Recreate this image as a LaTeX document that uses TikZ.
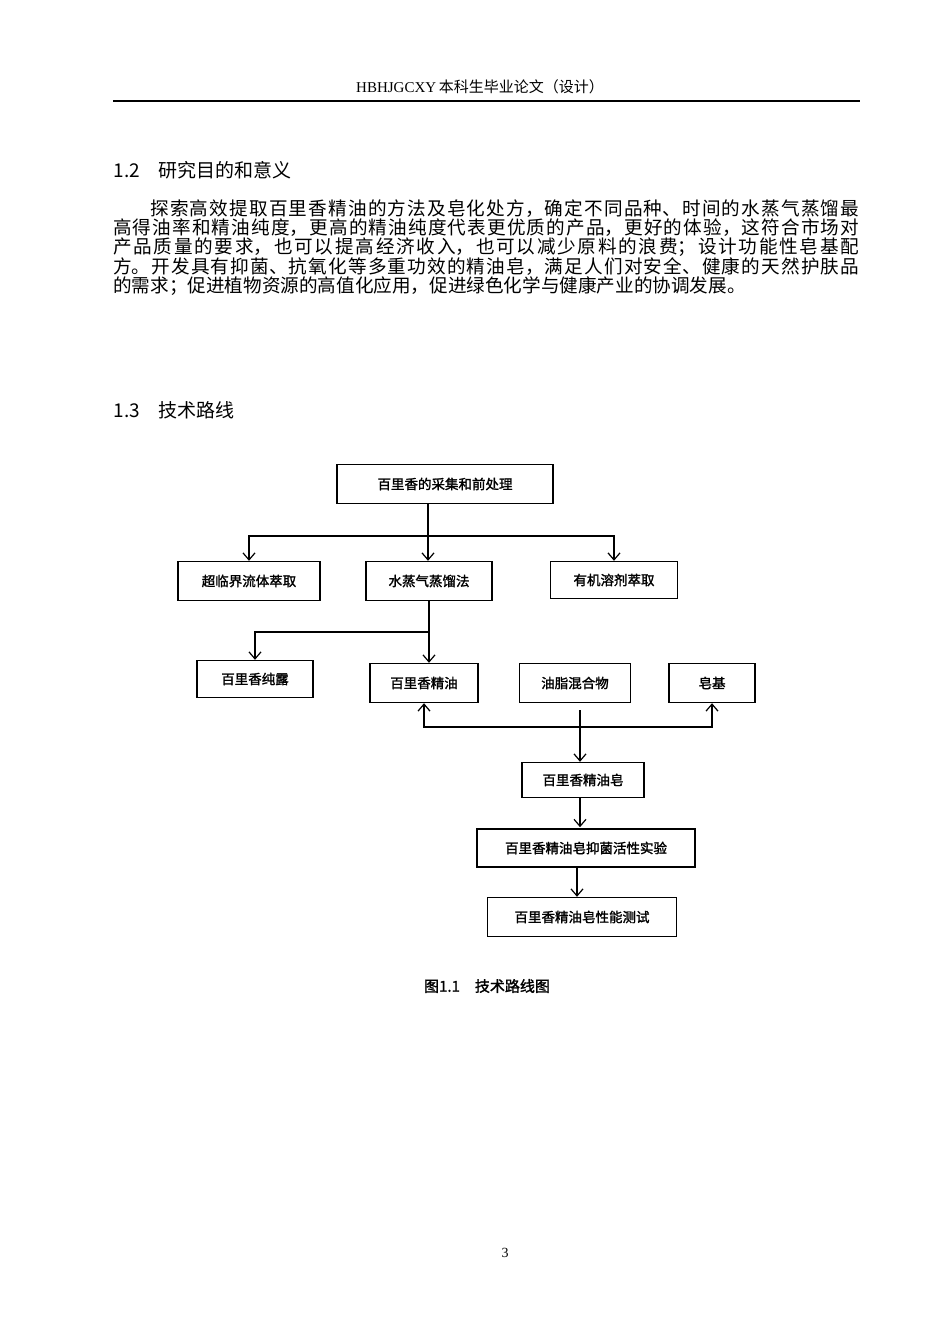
\documentclass[tikz,border=0pt]{standalone}
\usepackage{fontspec}
\setmainfont{Liberation Serif}
\newfontfamily\cjk{Noto Sans CJK SC}
\newfontfamily\cjkbold[FakeBold=1.6]{Noto Sans CJK SC}
\usetikzlibrary{arrows.meta}
\XeTeXlinebreaklocale "zh"
\XeTeXlinebreakskip=0pt plus 3pt
\tikzset{
  stepbox/.style={draw, line width=1.4pt, minimum height=39pt, inner xsep=8pt,
    font=\cjkbold\fontsize{13.5}{15}\selectfont},
  flow/.style={line width=1.2pt, -{Straight Barb[length=7pt,width=12pt]}},
  plain/.style={line width=1.2pt}
}
\begin{document}
\begin{tikzpicture}[x=1pt,y=-1pt]
\useasboundingbox[fill=white] (0,0) rectangle (950,1344);
% page head
\node (head) at (480,87) {\fontsize{15}{17}\selectfont HBHJGCXY\,\cjk 本科生毕业论文（设计）};
\draw[line width=1.6pt] (113,101) -- (860,101);
\node[anchor=west] (sec12) at (110,170) {\cjk\fontsize{19}{22}\selectfont 1.2\quad 研究目的和意义};
\node[anchor=north west, inner sep=0pt, text width=746pt, align=justify] (para) at (113,200)
  {\cjk\fontsize{18.6}{32}\selectfont\hspace*{2em}探索高效提取百里香精油的方法及皂化处方，确定不同品种、时间的水蒸气蒸馏最\linebreak
  高得油率和精油纯度，更高的精油纯度代表更优质的产品，更好的体验，这符合市场对\linebreak
  产品质量的要求，也可以提高经济收入，也可以减少原料的浪费；设计功能性皂基配\linebreak
  方。开发具有抑菌、抗氧化等多重功效的精油皂，满足人们对安全、健康的天然护肤品\linebreak
  的需求；促进植物资源的高值化应用，促进绿色化学与健康产业的协调发展。};
\node[anchor=west] (sec13) at (110,410) {\cjk\fontsize{19}{22}\selectfont 1.3\quad 技术路线};
% flow chart
\node[stepbox, minimum width=216pt] (pre) at (445,484) {百里香的采集和前处理};
\node[stepbox, minimum width=142pt] (scf) at (249,581) {超临界流体萃取};
\node[stepbox, minimum width=126pt] (steam) at (429,581) {水蒸气蒸馏法};
\node[stepbox, minimum width=127pt, minimum height=37pt] (solv) at (614,580) {有机溶剂萃取};
\node[stepbox, minimum width=116pt, minimum height=37pt] (hydro) at (255,679) {百里香纯露};
\node[stepbox, minimum width=108pt] (oil) at (424,683) {百里香精油};
\node[stepbox, minimum width=111pt] (fat) at (575,683) {油脂混合物};
\node[stepbox, minimum width=86pt] (base) at (712,683) {皂基};
\node[stepbox, minimum width=122pt, minimum height=35pt] (soap) at (583,780) {百里香精油皂};
\node[stepbox, minimum width=218pt, minimum height=38pt] (anti) at (586,848) {百里香精油皂抑菌活性实验};
\node[stepbox, minimum width=189pt] (perf) at (582,917) {百里香精油皂性能测试};
\coordinate (j1) at (428,536);
\coordinate (j2) at (429,632);
\coordinate (j3) at (580,727);
\coordinate (f0) at (580,710);
\draw[plain] (pre.south -| j1) -- (j1);
\draw[flow] (j1) -| (scf.north);
\draw[flow] (j1) -- (steam.north -| j1);
\draw[flow] (j1) -| (solv.north);
\draw[plain] (steam.south -| j2) -- (j2);
\draw[flow] (j2) -| (hydro.north);
\draw[flow] (j2) -- (oil.north -| j2);
\draw[flow] (j3) -| (oil.south);
\draw[flow] (j3) -| (base.south);
\draw[flow] (f0) -- (soap.north -| f0);
\draw[flow] (soap.south -| anti.north) ++(-6,0) -- ++(0,29);
\draw[flow] (anti.south -| perf.north) ++(-5,0) -- (perf.north -| 577,0);
\node (cap) at (487,986) {\cjkbold\fontsize{15}{17}\selectfont 图1.1\quad 技术路线图};
\node (pnum) at (505,1253) {\fontsize{14}{16}\selectfont 3};
\end{tikzpicture}
\end{document}
